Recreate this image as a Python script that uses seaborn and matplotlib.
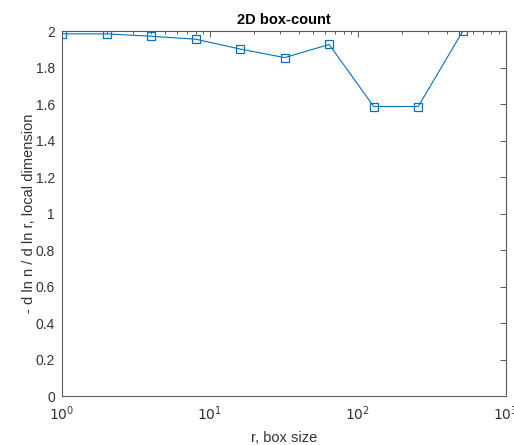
import matplotlib
matplotlib.use("Agg")
import matplotlib.pyplot as plt
import seaborn as sns
import pandas as pd
import numpy as np
from matplotlib.ticker import LogLocator, FixedLocator

box_size = [1, 2, 4, 8, 16, 32, 64, 128, 256, 512]
local_dim = [1.985, 1.985, 1.972, 1.956, 1.902, 1.855, 1.927, 1.587, 1.587, 2.0]
y_ticks = [0, 0.2, 0.4, 0.6, 0.8, 1, 1.2, 1.4, 1.6, 1.8, 2]
y_tick_labels = ["0", "0.2", "0.4", "0.6", "0.8", "1", "1.2", "1.4", "1.6", "1.8", "2"]

sns.set_style("white")
plt.rcParams['font.family'] = ['Liberation Sans', 'DejaVu Sans']

df = pd.DataFrame({"r": box_size, "d": local_dim})

fig = plt.figure(figsize=(5.14, 4.45), dpi=100)
ax = fig.add_axes([0.1206, 0.110, 0.8634, 0.820])

sns.lineplot(data=df, x="r", y="d", ax=ax, color="#0072BD", linewidth=0.8,
             marker="s", markersize=5.5, markerfacecolor="none",
             markeredgecolor="#0072BD", markeredgewidth=0.9)

ax.set_xscale("log")
ax.set_xlim(1, 1000)
ax.set_ylim(0, 2)
ax.set_yticks(y_ticks)
ax.set_yticklabels(y_tick_labels)
ax.xaxis.set_major_locator(FixedLocator([1, 10, 100, 1000]))
ax.xaxis.set_minor_locator(LogLocator(base=10, subs=np.arange(2, 10)))
ax.set_xticklabels(["$10^{0}$", "$10^{1}$", "$10^{2}$", "$10^{3}$"])

axis_col = "#5a5a5a"
label_col = "#333333"
for s in ax.spines.values():
    s.set_color(axis_col)
    s.set_linewidth(0.8)

ax.tick_params(axis="both", which="both", direction="in", top=True, right=True,
               colors=axis_col, labelcolor=label_col, width=0.7)
ax.tick_params(axis="both", which="major", length=4, labelsize=10)
ax.tick_params(axis="x", which="major", pad=6)
ax.tick_params(axis="y", which="major", pad=5)
ax.tick_params(axis="x", which="minor", length=2)

ax.set_xlabel("r, box size", fontsize=10.5, color=label_col, labelpad=6)
ax.set_ylabel("- d ln n / d ln r, local dimension", fontsize=10.5, color=label_col, labelpad=0)
ax.set_title("2D box-count", fontsize=10.5, fontweight="bold", color="black", pad=5)
ax.grid(False)

fig.savefig("out.png", dpi=100)
